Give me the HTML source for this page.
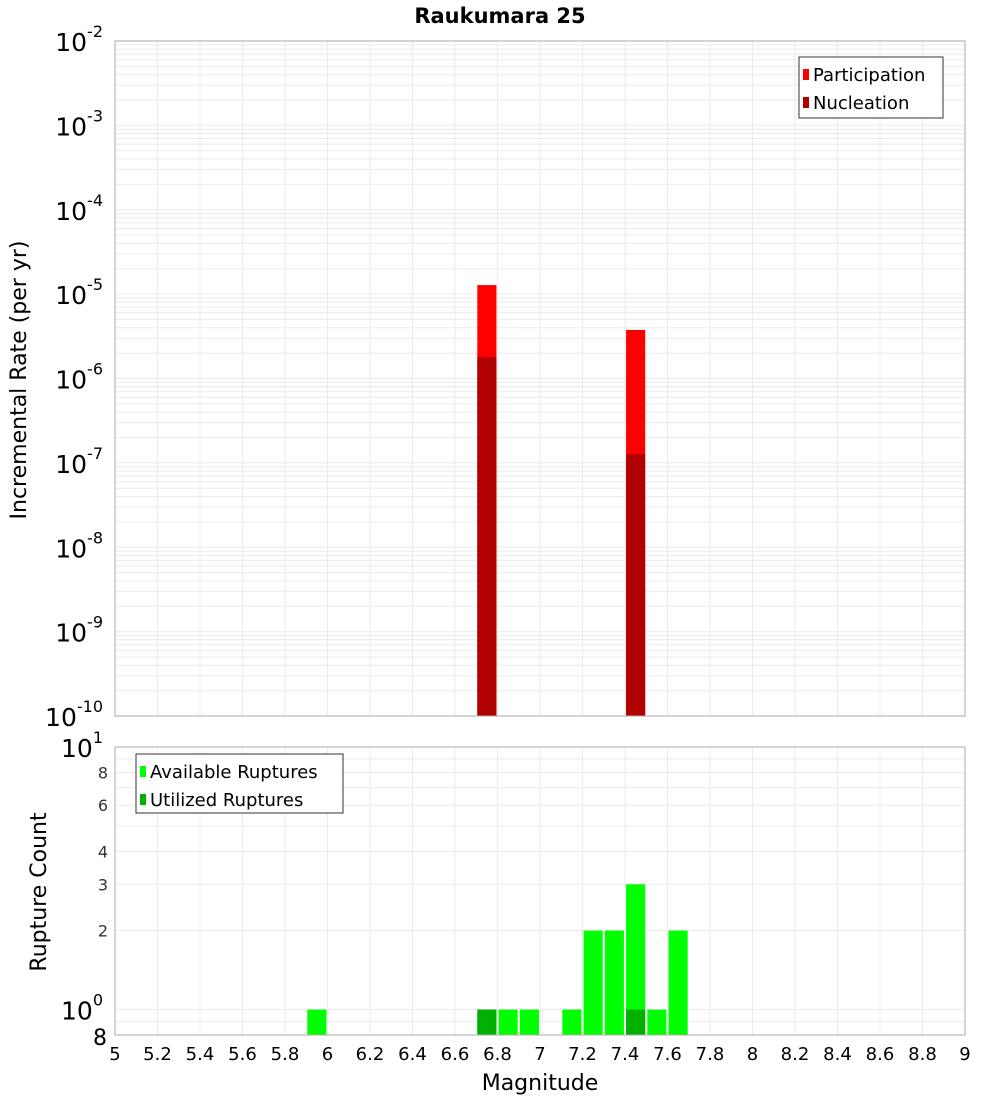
<!DOCTYPE html>
<html><head><meta charset="utf-8"><style>
body{margin:0;background:#fff;font-family:"DejaVu Sans","Liberation Sans",sans-serif}
svg{display:block}
</style></head><body>
<svg id="c" width="1000" height="1100" xmlns="http://www.w3.org/2000/svg"></svg>
<script>
const magBins=[6.75,7.45];
const participation=[1.28e-5,3.76e-6];
const nucleation=[1.8e-6,1.27e-7];
const countBins=[5.95,6.75,6.85,6.95,7.15,7.25,7.35,7.45,7.55,7.65];
const available=[1,1,1,1,1,2,2,3,1,2];
const utilizedBins=[6.75,7.45];
const utilized=[1,1];
const xTicks=[5,5.2,5.4,5.6,5.8,6,6.2,6.4,6.6,6.8,7,7.2,7.4,7.6,7.8,8,8.2,8.4,8.6,8.8,9];
const topDecades=[-10,-9,-8,-7,-6,-5,-4,-3,-2];
const botTicks=[0.8,1,2,3,4,6,8,10];
const botTickLabels=["8","10^0","2","3","4","6","8","10^1"];

const NS="http://www.w3.org/2000/svg";
const svg=document.getElementById('c');
function el(t,a,p){const e=document.createElementNS(NS,t);for(const k in a)e.setAttribute(k,a[k]);(p||svg).appendChild(e);return e;}
const L=115,R=965,T1=41,B1=716,T2=747,B2=1035;
const x=v=>L+(v-5)/(9-5)*(R-L);
const y1=v=>B1-(Math.log10(v)+10)/8*(B1-T1);
const lo2=Math.log10(0.8),hi2=1;
const y2=v=>B2-(Math.log10(v)-lo2)/(hi2-lo2)*(B2-T2);

// grids
const g=el('g',{});


for(const t of xTicks){
  el('line',{x1:x(t),x2:x(t),y1:T1,y2:B1,stroke:'#ebebeb'},g);
  el('line',{x1:x(t),x2:x(t),y1:T2,y2:B2,stroke:'#ebebeb'},g);
}
for(let d=-10;d<-2;d++)for(let m=1;m<10;m++){const yy=y1(m*Math.pow(10,d));el('line',{x1:L,x2:R,y1:yy,y2:yy,stroke:'#ebebeb'},g);}
for(const v of [0.9,1,2,3,4,5,6,7,8,9]){const yy=y2(v);el('line',{x1:L,x2:R,y1:yy,y2:yy,stroke:'#ebebeb'},g);}

// top bars
const bw=0.09;
magBins.forEach((m,i)=>{
  const r=el('rect',{x:x(m-bw/2),width:x(m+bw/2)-x(m-bw/2),y:y1(participation[i]),height:B1-y1(participation[i]),fill:'#ff0000'});
  
  
  const n=el('rect',{x:x(m-bw/2),width:x(m+bw/2)-x(m-bw/2),y:y1(nucleation[i]),height:B1-y1(nucleation[i]),fill:'#b00000'});
  
  
});
countBins.forEach((m,i)=>{
  const r=el('rect',{x:x(m-bw/2),width:x(m+bw/2)-x(m-bw/2),y:y2(available[i]),height:B2-y2(available[i]),fill:'#00ff00'});
  
  
});
utilizedBins.forEach((m,i)=>{
  const r=el('rect',{x:x(m-bw/2),width:x(m+bw/2)-x(m-bw/2),y:y2(utilized[i]),height:B2-y2(utilized[i]),fill:'#00b000'});
  
  
});

// frames
el('rect',{x:L,y:T1,width:R-L,height:B1-T1,fill:'none',stroke:'#aaa'});
el('rect',{x:L,y:T2,width:R-L,height:B2-T2,fill:'none',stroke:'#aaa'});

function txt(s,a,name){const t=el('text',a);t.textContent=s;return t;}
// title
txt('Raukumara 25',{x:500,y:23,'text-anchor':'middle','font-size':21,'font-weight':'bold'},'chart-title');
// top y ticks
for(const d of topDecades){
  const yy=y1(Math.pow(10,d));
  const t=txt('10',{x:103,y:yy+10,'text-anchor':'end','font-size':25},'y-tick-label');
  const s=el('tspan',{dy:-14,'font-size':16},t);s.textContent=String(d);
}
// bottom y ticks
botTicks.forEach((v,i)=>{
  const yy=y2(v);const lab=botTickLabels[i];
  if(lab.startsWith('10^')){
    const t=txt('10',{x:103,y:yy+10,'text-anchor':'end','font-size':25},'y-tick-label');
    const s=el('tspan',{dy:-14,'font-size':16},t);s.textContent=lab.slice(3);
  }else if(v<1){
    txt(lab,{x:107,y:yy+10,'text-anchor':'end','font-size':22},'y-tick-label');
  }else{
    txt(lab,{x:108,y:yy+6,'text-anchor':'end','font-size':16,fill:'#333'},'y-tick-label');
  }
});
// x ticks
for(const t of xTicks){txt(String(t),{x:x(t),y:1060,'text-anchor':'middle','font-size':18},'x-tick-label');}
txt('Magnitude',{x:540,y:1090,'text-anchor':'middle','font-size':22},'x-axis-title');
txt('Incremental Rate (per yr)',{x:0,y:0,transform:'translate(26,380) rotate(-90)','text-anchor':'middle','font-size':22},'y-axis-title-top');
txt('Rupture Count',{x:0,y:0,transform:'translate(46,892) rotate(-90)','text-anchor':'middle','font-size':22},'y-axis-title-bottom');

// legends
function legend(x0,y0,w,h,items,name){
  const lg=el('g',{});
  
  
  el('rect',{x:x0,y:y0,width:w,height:h,fill:'#fff',stroke:'#333'},lg);
  items.forEach((it,i)=>{
    el('rect',{x:x0+4,y:y0+12+i*28,width:6,height:11,fill:it[1]},lg);
    const t=el('text',{x:x0+14,y:y0+24+i*28,'font-size':18},lg);t.textContent=it[0];
  });
}
legend(799,57,144,61,[['Participation','#ff0000'],['Nucleation','#b00000']],'legend-top');
legend(136,754,207,59,[['Available Ruptures','#00ff00'],['Utilized Ruptures','#00b000']],'legend-bottom');
</script>
</body></html>
